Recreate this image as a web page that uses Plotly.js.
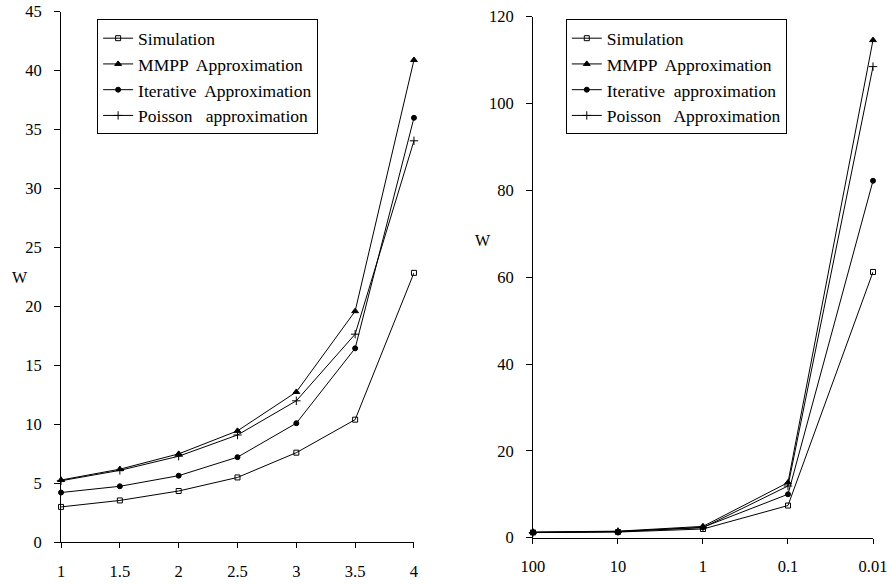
<!DOCTYPE html>
<html>
<head>
<meta charset="utf-8">
<script src="https://cdn.plot.ly/plotly-3.0.1.min.js"></script>
<style>html,body{margin:0;padding:0;background:#fff;}#chart{width:891px;height:585px;}</style>
</head>
<body>
<div id="chart"></div>
<script>
// Left panel
const leftX = [1, 1.5, 2, 2.5, 3, 3.5, 4];
const leftSimulation = [3.0, 3.55, 4.35, 5.5, 7.6, 10.4, 22.85];
const leftMMPP = [5.28, 6.2, 7.5, 9.45, 12.75, 19.6, 40.9];
const leftIterative = [4.22, 4.75, 5.65, 7.22, 10.1, 16.45, 36.0];
const leftPoisson = [5.22, 6.1, 7.3, 9.1, 12.0, 17.65, 34.05];
const leftNames = ["Simulation", "MMPP  Approximation", "Iterative  Approximation", "Poisson   approximation"];

// Right panel
const rightX = ["100", "10", "1", "0.1", "0.01"];
const rightSimulation = [1.2, 1.3, 2.0, 7.4, 61.2];
const rightMMPP = [1.3, 1.5, 2.6, 12.7, 114.6];
const rightIterative = [1.2, 1.4, 2.4, 10.0, 82.2];
const rightPoisson = [1.2, 1.4, 2.3, 11.9, 108.5];
const rightNames = ["Simulation", "MMPP  Approximation", "Iterative  approximation", "Poisson   Approximation"];

const symbols = ["square-open", "triangle-up", "circle", "cross-thin-open"];
const sizes = [5, 6, 5, 6];

function mk(x, y, name, i, xa, ya, leg) {
  return {
    x: x, y: y, name: name, type: "scatter", mode: "lines+markers",
    xaxis: xa, yaxis: ya, legend: leg, cliponaxis: false,
    line: {color: "#000", width: 1},
    marker: {symbol: symbols[i], size: sizes[i], color: "#000", line: {color: "#000", width: 1}}
  };
}

const leftSeries = [leftSimulation, leftMMPP, leftIterative, leftPoisson];
const rightSeries = [rightSimulation, rightMMPP, rightIterative, rightPoisson];
const data = [];
leftSeries.forEach((s, i) => data.push(mk(leftX, s, leftNames[i], i, "x", "y", "legend")));
rightSeries.forEach((s, i) => data.push(mk(rightX, s, rightNames[i], i, "x2", "y2", "legend2")));

const font = {family: "Liberation Serif, Times New Roman, serif", size: 16.5, color: "#000"};
const axBase = {
  showgrid: false, zeroline: false, showline: true, linecolor: "#000", linewidth: 1,
  ticks: "outside", tickcolor: "#000", tickwidth: 1,
  tickfont: font, fixedrange: true
};
const xBase = Object.assign({}, axBase, {ticklen: 5, ticklabelstandoff: 9});
const yBase = Object.assign({}, axBase, {ticklen: 6, ticklabelstandoff: 9});
const legBase = {
  xanchor: "left", yanchor: "top", bordercolor: "#000", borderwidth: 1,
  bgcolor: "#fff", font: {family: font.family, size: 17.5, color: "#000"},
  tracegroupgap: 0, itemwidth: 30
};

const layout = {
  width: 891, height: 585,
  margin: {l: 0, r: 0, t: 0, b: 0},
  paper_bgcolor: "#fff", plot_bgcolor: "#fff",
  font: font,
  xaxis: Object.assign({}, xBase, {domain: [0.0685, 0.4646], range: [1, 4], tickvals: leftX, ticktext: leftX.map(String), anchor: "y"}),
  yaxis: Object.assign({}, yBase, {domain: [0.073, 0.98], range: [0, 45], dtick: 5, tick0: 0, anchor: "x"}),
  xaxis2: Object.assign({}, xBase, {domain: [0.5982, 0.9798], type: "category", range: [0, 4], anchor: "y2"}),
  yaxis2: Object.assign({}, yBase, {domain: [0.0809, 0.9715], range: [0, 120], dtick: 20, tick0: 0, anchor: "x2"}),
  legend: Object.assign({}, legBase, {x: 0.109, y: 0.967}),
  legend2: Object.assign({}, legBase, {x: 0.635, y: 0.967}),
  annotations: [
    {text: "W", xref: "paper", yref: "paper", x: 20 / 891, y: 1 - 277 / 585, xanchor: "center", yanchor: "middle", showarrow: false, font: {family: font.family, size: 16, color: "#000"}},
    {text: "W", xref: "paper", yref: "paper", x: 483 / 891, y: 1 - 240 / 585, xanchor: "center", yanchor: "middle", showarrow: false, font: {family: font.family, size: 16, color: "#000"}}
  ]
};

Plotly.newPlot("chart", data, layout, {staticPlot: true, displayModeBar: false});
</script>
</body>
</html>
